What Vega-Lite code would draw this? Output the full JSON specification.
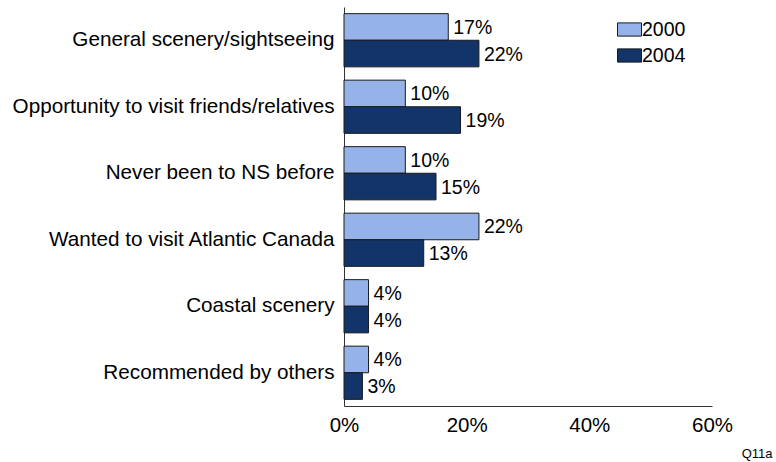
{
  "$schema": "https://vega.github.io/schema/vega-lite/v6.json",
  "width": 368,
  "height": 399,
  "autosize": {"type": "none"},
  "padding": {"left": 344, "top": 7, "right": 64, "bottom": 56},
  "background": "white",
  "config": {"view": {"stroke": null}, "font": "Liberation Sans"},
  "data": {"values": [
    {"reason": "General scenery/sightseeing", "year": "2000", "pct": 0.17},
    {"reason": "General scenery/sightseeing", "year": "2004", "pct": 0.22},
    {"reason": "Opportunity to visit friends/relatives", "year": "2000", "pct": 0.10},
    {"reason": "Opportunity to visit friends/relatives", "year": "2004", "pct": 0.19},
    {"reason": "Never been to NS before", "year": "2000", "pct": 0.10},
    {"reason": "Never been to NS before", "year": "2004", "pct": 0.15},
    {"reason": "Wanted to visit Atlantic Canada", "year": "2000", "pct": 0.22},
    {"reason": "Wanted to visit Atlantic Canada", "year": "2004", "pct": 0.13},
    {"reason": "Coastal scenery", "year": "2000", "pct": 0.04},
    {"reason": "Coastal scenery", "year": "2004", "pct": 0.04},
    {"reason": "Recommended by others", "year": "2000", "pct": 0.04},
    {"reason": "Recommended by others", "year": "2004", "pct": 0.03}
  ]},
  "encoding": {
    "y": {
      "field": "reason", "type": "nominal",
      "sort": ["General scenery/sightseeing", "Opportunity to visit friends/relatives", "Never been to NS before", "Wanted to visit Atlantic Canada", "Coastal scenery", "Recommended by others"],
      "scale": {"paddingInner": 0.2, "paddingOuter": 0.1},
      "axis": {"title": null, "ticks": false, "domainColor": "#333333", "domainWidth": 1, "labelFontSize": 20.7, "labelColor": "#000000", "labelPadding": 10, "labelLimit": 400}
    },
    "yOffset": {"field": "year", "type": "nominal", "sort": ["2000", "2004"]},
    "x": {
      "field": "pct", "type": "quantitative",
      "scale": {"domain": [0, 0.6]},
      "axis": {"values": [0, 0.2, 0.4, 0.6], "format": ".0%", "grid": false, "ticks": false, "domainColor": "#333333", "labelFontSize": 20.5, "labelColor": "#000000", "labelPadding": 9, "labelFlush": false,
        "title": "Q11a", "titleFontSize": 13, "titleFontWeight": "normal", "titleColor": "#000000", "titleAlign": "right", "titleAnchor": null, "titleX": 428, "titleY": 47, "titleBaseline": "middle"}
    }
  },
  "layer": [
    {
      "mark": {"type": "bar", "stroke": "#1a1a1a", "strokeWidth": 1},
      "encoding": {
        "color": {
          "field": "year", "type": "nominal",
          "scale": {"domain": ["2000", "2004"], "range": ["#95B3E8", "#123468"]},
          "legend": {"title": null, "orient": "none", "legendX": 273, "legendY": 10, "symbolType": "M-1,-0.55H1V0.55H-1Z", "symbolSize": 576, "symbolStrokeColor": "#1a1a1a", "symbolStrokeWidth": 1, "labelFontSize": 19.5, "labelColor": "#000000", "rowPadding": 4, "labelOffset": 0}
        }
      }
    },
    {
      "mark": {"type": "text", "align": "left", "baseline": "middle", "dx": 5, "dy": 1, "fontSize": 19.5, "color": "#000000"},
      "encoding": {"text": {"field": "pct", "type": "quantitative", "format": ".0%"}}
    }
  ]
}
